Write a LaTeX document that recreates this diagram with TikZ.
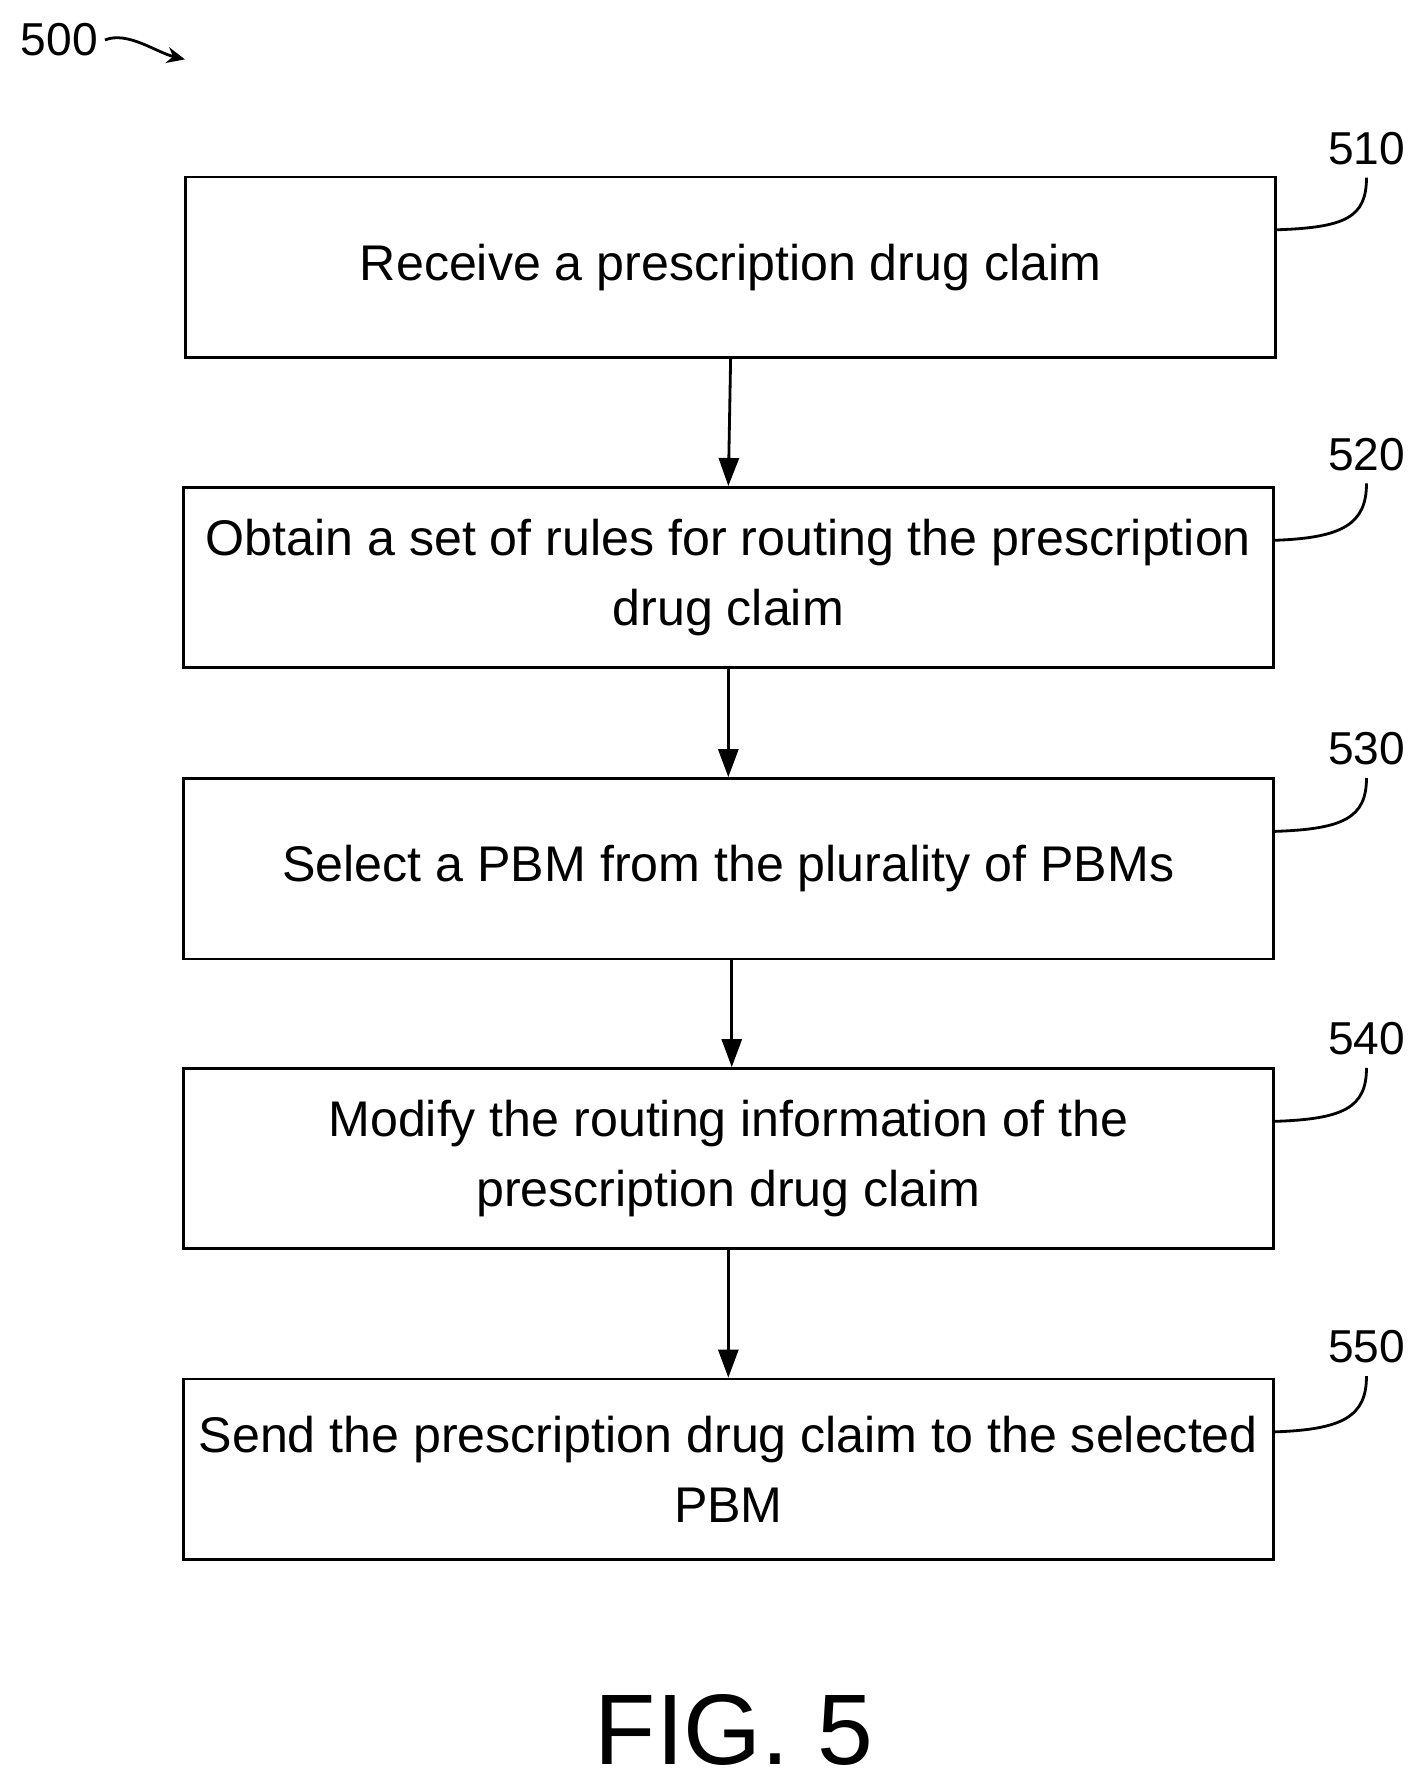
\documentclass[tikz,border=0pt]{standalone}
\usepackage{fontspec}
\setmainfont{Liberation Sans}
\usetikzlibrary{arrows.meta}
\begin{document}
\begin{tikzpicture}[x=0.02cm,y=-0.02cm,
  box/.style={draw,line width=1.4pt,minimum width=19.1cm,minimum height=3.16cm,align=center,font=\fontsize{25}{35}\selectfont,inner sep=0pt},
  lbl/.style={font=\fontsize{23}{26}\selectfont},
  arr/.style={line width=1.4pt,-{Triangle[length=14pt,width=10pt]}},
  lead/.style={line width=1.4pt}]
\useasboundingbox (0,0) rectangle (1250,1568);
\node[box] (b1) at (640,234) {Receive a prescription drug claim};
\node[box] (b2) at (638,506) {Obtain a set of rules for routing the prescription\\drug claim};
\node[box] (b3) at (638,761) {Select a PBM from the plurality of PBMs};
\node[box] (b4) at (638,1015) {Modify the routing information of the\\prescription drug claim};
\node[box] (b5) at (638,1287) {Send the prescription drug claim to the selected\\PBM};
\draw[arr] (b1.south) -- (b2.north);
\draw[arr] (b2.south) -- (b3.north);
\draw[arr] ([xshift=0.06cm]b3.south) -- ([xshift=0.06cm]b4.north);
\draw[arr] (b4.south) -- (b5.north);
\foreach \n/\t/\y in {1/510/130,2/520/398,3/530/656,4/540/910,5/550/1180}{
  \node[lbl] (l\n) at (1197,\y) {\t};
  \draw[lead] ([yshift=-0.95cm]b\n.north east) .. controls +(60,-2) and +(0,35) .. ([yshift=-0.1cm]l\n.south);
}
\node[lbl] (l0) at (52,35) {500};
\coordinate (c0) at (162,52);
\draw[line width=1.4pt,-{Stealth[length=9pt,width=8pt]}] (l0.east) .. controls +(20,-8) and +(-25,-6) .. (c0);
\node[font=\fontsize{50}{60}\selectfont] (fig) at (643,1515) {FIG. 5};
\end{tikzpicture}
\end{document}
